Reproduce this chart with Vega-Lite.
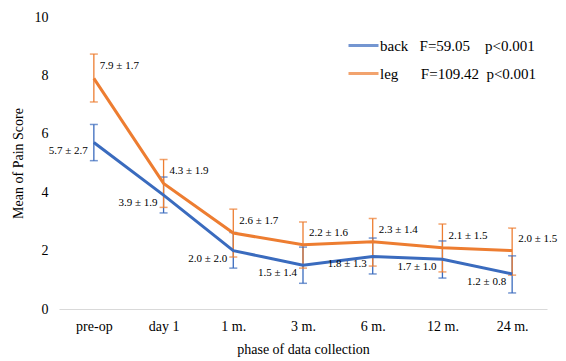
{
  "$schema": "https://vega.github.io/schema/vega-lite/v6.json",
  "width": 488,
  "height": 292,
  "autosize": "none",
  "padding": {"left": 59, "top": 17, "right": 19, "bottom": 52},
  "background": "white",
  "config": {
    "view": {"stroke": null},
    "font": "Liberation Serif",
    "text": {"font": "Liberation Serif"},
    "axis": {"labelFont": "Liberation Serif", "titleFont": "Liberation Serif"},
    "legend": {"labelFont": "Liberation Serif", "titleFont": "Liberation Serif"}
  },
  "data": {"values": [
    {"phase": "pre-op", "group": "back", "mean": 5.7, "lo": 5.08, "hi": 6.32, "label": "5.7 ± 2.7"},
    {"phase": "day 1", "group": "back", "mean": 3.9, "lo": 3.29, "hi": 4.52, "label": "3.9 ± 1.9"},
    {"phase": "1 m.", "group": "back", "mean": 2.0, "lo": 1.4, "hi": 2.62, "label": "2.0 ± 2.0"},
    {"phase": "3 m.", "group": "back", "mean": 1.5, "lo": 0.88, "hi": 2.12, "label": "1.5 ± 1.4"},
    {"phase": "6 m.", "group": "back", "mean": 1.8, "lo": 1.2, "hi": 2.43, "label": "1.8 ± 1.3"},
    {"phase": "12 m.", "group": "back", "mean": 1.7, "lo": 1.06, "hi": 2.33, "label": "1.7 ± 1.0"},
    {"phase": "24 m.", "group": "back", "mean": 1.2, "lo": 0.55, "hi": 1.82, "label": "1.2 ± 0.8"},
    {"phase": "pre-op", "group": "leg", "mean": 7.9, "lo": 7.09, "hi": 8.73, "label": "7.9 ± 1.7"},
    {"phase": "day 1", "group": "leg", "mean": 4.3, "lo": 3.48, "hi": 5.12, "label": "4.3 ± 1.9"},
    {"phase": "1 m.", "group": "leg", "mean": 2.6, "lo": 1.78, "hi": 3.42, "label": "2.6 ± 1.7"},
    {"phase": "3 m.", "group": "leg", "mean": 2.2, "lo": 1.4, "hi": 2.98, "label": "2.2 ± 1.6"},
    {"phase": "6 m.", "group": "leg", "mean": 2.3, "lo": 1.47, "hi": 3.1, "label": "2.3 ± 1.4"},
    {"phase": "12 m.", "group": "leg", "mean": 2.1, "lo": 1.27, "hi": 2.91, "label": "2.1 ± 1.5"},
    {"phase": "24 m.", "group": "leg", "mean": 2.0, "lo": 1.16, "hi": 2.77, "label": "2.0 ± 1.5"}
  ]},
  "encoding": {
    "x": {
      "field": "phase", "type": "ordinal",
      "sort": ["pre-op", "day 1", "1 m.", "3 m.", "6 m.", "12 m.", "24 m."],
      "scale": {"type": "point", "padding": 0.5},
      "axis": {
        "title": "phase of data collection", "titleFontSize": 14, "titleFontWeight": "normal", "titleColor": "black",
        "labelFontSize": 14, "labelColor": "black", "labelAngle": 0, "ticks": false,
        "domainColor": "#d9d9d9", "domainWidth": 1, "labelPadding": 10, "titlePadding": 9, "grid": false
      }
    }
  },
  "layer": [
    {
      "mark": {"type": "rule", "strokeWidth": 1.3},
      "encoding": {
        "y": {"field": "lo", "type": "quantitative"},
        "y2": {"field": "hi"},
        "color": {"field": "group", "type": "nominal"}
      }
    },
    {
      "mark": {"type": "tick", "size": 8, "thickness": 1.5},
      "encoding": {
        "y": {"field": "lo", "type": "quantitative"},
        "color": {"field": "group", "type": "nominal"}
      }
    },
    {
      "mark": {"type": "tick", "size": 8, "thickness": 1.5},
      "encoding": {
        "y": {"field": "hi", "type": "quantitative"},
        "color": {"field": "group", "type": "nominal"}
      }
    },
    {
      "mark": {"type": "line", "strokeWidth": 3},
      "encoding": {
        "y": {
          "field": "mean", "type": "quantitative",
          "scale": {"domain": [0, 10], "nice": false},
          "axis": {
            "title": "Mean of Pain Score", "titleFontSize": 14, "titleFontWeight": "normal", "titleColor": "black",
            "labelFontSize": 14, "labelColor": "black", "values": [0, 2, 4, 6, 8, 10],
            "domain": false, "ticks": false, "grid": false, "labelPadding": 11, "titlePadding": 9
          }
        },
        "color": {
          "field": "group", "type": "nominal",
          "scale": {"domain": ["back", "leg"], "range": ["#3A6BBE", "#ED7D31"]},
          "legend": {
            "title": null, "orient": "none", "legendX": 288, "legendY": 12,
            "symbolType": "stroke", "symbolSize": 900, "symbolStrokeWidth": 3,
            "labelFontSize": 15, "labelColor": "black", "labelOffset": 0, "rowPadding": 3, "padding": 0,
            "labelExpr": "datum.label == 'back' ? 'back\u00a0\u00a0\u00a0F=59.05\u00a0\u00a0\u00a0\u00a0p<0.001' : 'leg\u00a0\u00a0\u00a0\u00a0\u00a0\u00a0F=109.42\u00a0\u00a0p<0.001'"
          }
        }
      }
    },
    {
      "transform": [{"filter": "datum.group == 'leg'"}],
      "mark": {"type": "text", "align": "left", "baseline": "middle", "dx": 6, "dy": -12, "fontSize": 11, "color": "black", "font": "Liberation Serif"},
      "encoding": {
        "y": {"field": "mean", "type": "quantitative"},
        "text": {"field": "label"}
      }
    },
    {
      "transform": [{"filter": "datum.group == 'back'"}],
      "mark": {"type": "text", "align": "right", "baseline": "middle", "dx": -6, "dy": 8, "fontSize": 11, "color": "black", "font": "Liberation Serif"},
      "encoding": {
        "y": {"field": "mean", "type": "quantitative"},
        "text": {"field": "label"}
      }
    }
  ]
}
